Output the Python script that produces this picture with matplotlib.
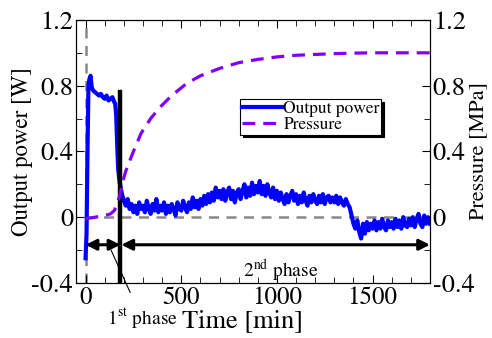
import matplotlib
matplotlib.use('Agg')
import matplotlib.pyplot as plt
from matplotlib.ticker import MultipleLocator

plt.rcParams['font.family'] = ['STIXGeneral', 'Liberation Serif', 'DejaVu Serif']
plt.rcParams['mathtext.fontset'] = 'stix'

# Output power [W] - start-up part
t_start = [0, 5, 10, 15, 20, 26, 32, 40, 50, 60, 70, 80, 90, 100, 110, 120, 130, 140,
           150, 155, 160, 165, 170, 175, 180, 185, 190, 195]
p_start = [-0.25, -0.1, 0.4, 0.8, 0.84, 0.86, 0.79, 0.77, 0.76, 0.75, 0.74, 0.75, 0.73,
           0.72, 0.74, 0.71, 0.72, 0.73, 0.70, 0.69, 0.62, 0.45, 0.30, 0.24, 0.20, 0.17,
           0.14, 0.12]

# Output power [W] - every 10 min from 200 to 1800
t_run = list(range(200, 1810, 10))
p_run = [
    0.10, 0.07, 0.11, 0.05, 0.08, 0.03, 0.07, 0.02, 0.09, 0.05,
    0.07, 0.03, 0.10, 0.05, 0.02, 0.08, 0.04, 0.11, 0.03, 0.07,
    0.04, 0.09, 0.02, 0.07, 0.03, 0.08, 0.05, 0.01, 0.09, 0.05,
    0.04, 0.10, 0.06, 0.03, 0.09, 0.05, 0.12, 0.06, 0.10, 0.05,
    0.11, 0.07, 0.13, 0.08, 0.14, 0.09, 0.15, 0.10, 0.18, 0.12,
    0.16, 0.11, 0.17, 0.10, 0.15, 0.18, 0.11, 0.16, 0.09, 0.15,
    0.17, 0.11, 0.16, 0.20, 0.12, 0.18, 0.13, 0.21, 0.14, 0.19,
    0.15, 0.22, 0.14, 0.19, 0.13, 0.20, 0.15, 0.12, 0.18, 0.11,
    0.16, 0.10, 0.15, 0.11, 0.08, 0.14, 0.09, 0.13, 0.16, 0.10,
    0.14, 0.08, 0.13, 0.09, 0.15, 0.10, 0.07, 0.13, 0.09, 0.14,
    0.10, 0.08, 0.13, 0.09, 0.14, 0.08, 0.12, 0.13, 0.09, 0.12,
    0.09, 0.13, 0.08, 0.12, 0.09, 0.07, 0.11, 0.08, 0.06, 0.01,
    -0.04, -0.07, -0.02, -0.09, -0.13, -0.04, -0.10, -0.03, -0.08, -0.04,
    -0.07, -0.02, -0.08, -0.03, -0.07, -0.01, -0.06, -0.08, -0.02, -0.06,
    -0.03, -0.07, -0.01, -0.06, -0.02, -0.07, 0.00, -0.05, -0.06, -0.01,
    -0.05, 0.00, -0.06, -0.01, 0.02, -0.04, -0.06, 0.01, -0.04, 0.00,
    -0.04,
]

# Pressure [MPa]
t_press = [0, 50, 100, 130, 150, 165, 180, 195, 210, 230, 250, 290, 340, 390, 450,
           530, 600, 700, 800, 900, 1000, 1100, 1200, 1300, 1400, 1500, 1600, 1700, 1800]
p_press = [-0.01, 0.0, 0.01, 0.02, 0.04, 0.08, 0.14, 0.22, 0.28, 0.34, 0.40, 0.51, 0.60,
           0.67, 0.74, 0.815, 0.86, 0.905, 0.94, 0.96, 0.975, 0.985, 0.99, 0.995, 0.998,
           1.0, 1.0, 1.0, 1.0]

t_power = t_start + t_run
p_power = p_start + p_run

t_switch = 182  # end of 1st phase

fig = plt.figure(figsize=(4.92, 3.38), dpi=100)
ax = fig.add_axes([0.1545, 0.163, 0.7195, 0.778])
ax2 = ax.twinx()

# reference lines
ax.axvline(0, color='#888888', ls=(0, (4, 3)), lw=1.8, zorder=1)
ax.plot([0, 1800], [0, 0], color='#888888', ls=(0, (4, 3)), lw=1.8, zorder=1)

l1, = ax.plot(t_power, p_power, color='#0000ff', lw=3.0, label='Output power', zorder=3)
l2, = ax2.plot(t_press, p_press, color='#8000ff', lw=2.3, ls=(0, (4, 2.5)), label='Pressure')

# phase markers
ax.plot([t_switch, t_switch], [-0.4, 0.76], color='black', lw=3.2, zorder=4)
arrow = dict(arrowstyle='<|-|>', color='black', lw=2.2, mutation_scale=16, shrinkA=0, shrinkB=0)
ax.annotate('', xy=(0, -0.168), xytext=(t_switch, -0.168), arrowprops=arrow)
ax.annotate('', xy=(t_switch + 5, -0.168), xytext=(1800, -0.168), arrowprops=arrow)
ax.text(1020, -0.33, '2$^{\\rm nd}$ phase', fontsize=14, ha='center', va='center')
ax.annotate('1$^{\\rm st}$ phase', xy=(133, -0.2), xytext=(296, -0.62),
            fontsize=14, ha='center', va='center', annotation_clip=False,
            arrowprops=dict(arrowstyle='-', color='black', lw=0.8, shrinkA=9, shrinkB=0))

ax.set_xlim(-50, 1800)
ax.set_ylim(-0.4, 1.2)
ax2.set_ylim(-0.4, 1.2)
ax.xaxis.set_major_locator(MultipleLocator(500))
ax.xaxis.set_minor_locator(MultipleLocator(100))
for a in (ax, ax2):
    a.yaxis.set_major_locator(MultipleLocator(0.4))
    a.yaxis.set_minor_locator(MultipleLocator(0.2))
    a.yaxis.set_major_formatter(plt.FuncFormatter(lambda v, p: '0' if abs(v) < 1e-9 else f'{v:.1f}'))

ax.tick_params(which='both', direction='in', top=True, labelsize=19, pad=2)
ax.tick_params(axis='x', labelsize=18, pad=2)
ax.tick_params(which='major', length=6)
ax.tick_params(which='minor', length=4)
ax2.tick_params(which='both', direction='in', labelsize=19, pad=2)
ax2.tick_params(which='major', length=6)
ax2.tick_params(which='minor', length=4)

ax.set_xlabel('Time [min]', fontsize=19)
ax.xaxis.set_label_coords(0.47, -0.098)
ax.set_ylabel('Output power [W]', fontsize=16.5)
ax.yaxis.set_label_coords(-0.121, 0.5)
ax2.set_ylabel('Pressure [MPa]', fontsize=16)
ax2.yaxis.set_label_coords(1.11, 0.5)

leg = ax2.legend([l1, l2], ['Output power', 'Pressure'], loc='upper left',
                 bbox_to_anchor=(0.463, 0.70), fontsize=12.5, frameon=True, fancybox=False,
                 shadow={'color': 'black', 'alpha': 1}, borderpad=0.1, labelspacing=0.0,
                 handlelength=2.4, handletextpad=0.0, borderaxespad=0)
leg.get_frame().set_edgecolor('black')
leg.get_frame().set_linewidth(0.8)

fig.savefig('out.png', dpi=100)
